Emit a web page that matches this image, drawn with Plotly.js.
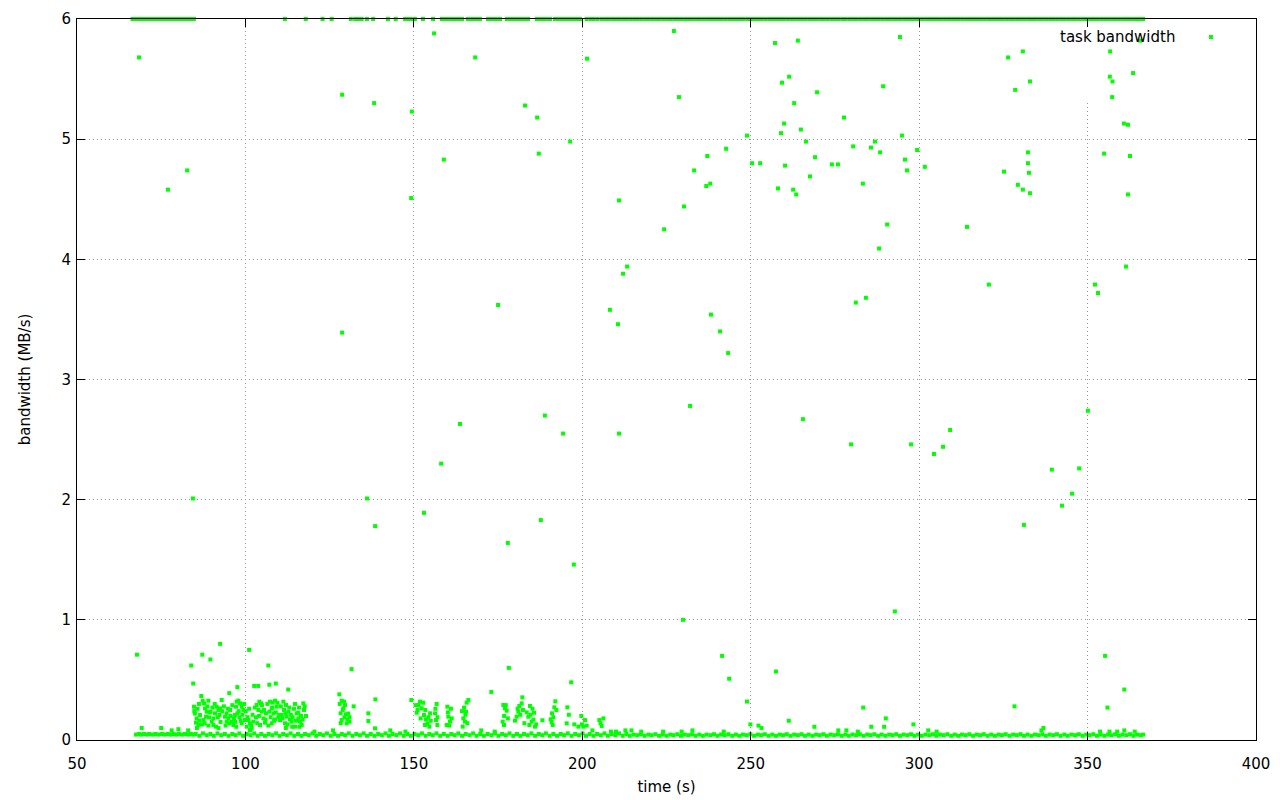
<!DOCTYPE html>
<html><head><meta charset="utf-8">
<script src="https://cdn.plot.ly/plotly-3.0.1.min.js"></script>
<style>html,body{margin:0;padding:0;background:#fff}#chart{width:1280px;height:800px}</style>
</head><body><div id="chart"></div>
<script>
const seriesName = 'task bandwidth';
const xTitle = 'time (s)';
const yTitle = 'bandwidth (MB/s)';
const xTicks = [50, 100, 150, 200, 250, 300, 350, 400];
const yTicks = [0, 1, 2, 3, 4, 5, 6];

// points sitting on the top edge (y = 6)
const topX = [
66.5,67.3,68.1,68.9,69.8,70.6,71.5,72.3,73.2,74.0,
74.9,75.7,76.6,77.4,78.3,79.1,80.0,80.8,81.7,82.5,
83.4,84.2,84.7,111.7,117.9,122.9,125.6,131.3,132.6,133.5,
134.5,136.1,137.9,142.3,144.6,147.4,148.2,149.1,150.3,152.7,
155.7,158.3,159.2,160.1,161.2,162.0,162.9,163.7,164.3,166.0,
166.8,167.7,168.6,169.6,172.0,172.9,173.8,174.7,175.6,177.6,
178.4,179.3,180.2,181.0,182.0,183.0,183.9,186.5,187.4,188.3,
189.2,190.4,191.9,192.8,193.7,194.6,195.5,196.4,197.3,198.2,
199.3,201.3,202.4,203.4,204.5,205.7,206.8,207.8,208.9,210.0,
211.1,212.2,213.2,214.3,215.4,216.5,217.6,218.7,219.7,220.8,
221.9,223.0,224.1,225.2,226.2,227.3,228.4,229.5,230.6,231.7,
232.7,233.8,234.9,236.0,237.1,238.2,239.2,240.3,241.4,242.5,
243.6,244.7,245.7,246.8,247.9,249.0,250.1,251.2,252.2,253.3,
254.4,255.5,256.6,257.7,258.7,259.8,260.9,262.0,263.1,264.2,
265.2,266.3,267.4,268.5,269.6,270.7,271.7,272.8,273.9,275.0,
276.1,277.2,278.2,279.3,280.4,281.5,282.6,283.7,284.7,285.8,
286.9,288.0,289.1,290.2,291.2,292.3,293.4,294.5,295.6,296.7,
297.7,298.8,299.9,301.0,302.1,303.2,304.2,305.3,306.4,307.5,
308.6,309.7,310.7,311.8,312.9,314.0,315.1,316.2,317.2,318.3,
319.4,320.5,321.6,322.7,323.7,324.8,325.9,327.0,328.1,329.2,
330.2,331.3,332.4,333.5,334.6,335.7,336.7,337.8,338.9,340.0,
341.1,342.2,343.2,344.3,345.4,346.5,347.6,348.7,349.7,350.8,
351.9,353.0,354.1,355.2,356.2,357.3,358.4,359.5,360.6,361.7,
362.7,363.8,364.9,366.0,366.5];
const topY = [
6,6,6,6,6,6,6,6,6,6, 6,6,6,6,6,6,6,6,6,6, 6,6,6,6,6,6,6,6,6,6,
6,6,6,6,6,6,6,6,6,6, 6,6,6,6,6,6,6,6,6,6, 6,6,6,6,6,6,6,6,6,6,
6,6,6,6,6,6,6,6,6,6, 6,6,6,6,6,6,6,6,6,6, 6,6,6,6,6,6,6,6,6,6,
6,6,6,6,6,6,6,6,6,6, 6,6,6,6,6,6,6,6,6,6, 6,6,6,6,6,6,6,6,6,6,
6,6,6,6,6,6,6,6,6,6, 6,6,6,6,6,6,6,6,6,6, 6,6,6,6,6,6,6,6,6,6,
6,6,6,6,6,6,6,6,6,6, 6,6,6,6,6,6,6,6,6,6, 6,6,6,6,6,6,6,6,6,6,
6,6,6,6,6,6,6,6,6,6, 6,6,6,6,6,6,6,6,6,6, 6,6,6,6,6,6,6,6,6,6,
6,6,6,6,6,6,6,6,6,6, 6,6,6,6,6,6,6,6,6,6,
6,6,6,6,6];

// dense band of small values along the bottom
const baseX = [
67.5,68.4,69.0,69.9,70.8,71.4,72.5,73.3,74.1,75.2,
76.0,76.9,77.8,78.6,79.5,80.3,81.2,82.1,83.0,83.8,
84.6,85.2,86.3,87.4,88.5,89.6,90.6,91.7,92.8,93.9,
95.0,96.1,97.1,98.2,99.3,100.4,101.5,102.6,103.6,104.7,
105.8,106.9,108.0,109.1,110.1,111.2,112.3,113.4,114.5,115.6,
116.6,117.7,118.8,119.9,121.0,122.1,123.1,124.2,125.3,126.4,
127.5,128.6,129.6,130.7,131.8,132.9,134.0,135.1,136.1,137.2,
138.3,139.4,140.5,141.6,142.6,143.7,144.8,145.9,147.0,148.1,
149.1,150.2,151.3,152.4,153.5,154.6,155.6,156.7,157.8,158.9,
160.0,161.1,162.1,163.2,164.3,165.4,166.5,167.6,168.6,169.7,
170.8,171.9,173.0,174.1,175.1,176.2,177.3,178.4,179.5,180.6,
181.6,182.7,183.8,184.9,186.0,187.1,188.1,189.2,190.3,191.4,
192.5,193.6,194.6,195.7,196.8,197.9,199.0,200.1,201.1,202.2,
203.3,204.4,205.5,206.6,207.6,208.7,209.8,210.9,212.0,213.1,
214.1,215.2,216.3,217.4,218.5,219.6,220.6,221.7,222.8,223.9,
225.0,226.1,227.1,228.2,229.3,230.4,231.5,232.6,233.6,234.7,
235.8,236.9,238.0,239.1,240.1,241.2,242.3,243.4,244.5,245.6,
246.6,247.7,248.8,249.9,251.0,252.1,253.1,254.2,255.3,256.4,
257.5,258.6,259.6,260.7,261.8,262.9,264.0,265.1,266.1,267.2,
268.3,269.4,270.5,271.6,272.6,273.7,274.8,275.9,277.0,278.1,
279.1,280.2,281.3,282.4,283.5,284.6,285.6,286.7,287.8,288.9,
290.0,291.1,292.1,293.2,294.3,295.4,296.5,297.6,298.6,299.7,
300.8,301.9,303.0,304.1,305.1,306.2,307.3,308.4,309.5,310.6,
311.6,312.7,313.8,314.9,316.0,317.1,318.1,319.2,320.3,321.4,
322.5,323.6,324.6,325.7,326.8,327.9,329.0,330.1,331.1,332.2,
333.3,334.4,335.5,336.6,337.6,338.7,339.8,340.9,342.0,343.1,
344.1,345.2,346.3,347.4,348.5,349.6,350.6,351.7,352.8,353.9,
355.0,356.1,357.1,358.2,359.3,360.4,361.5,362.6,363.6,364.7,
365.8,366.5];
const baseY = [
.045,.05,.045,.05,.045,.05,.045,.05,.045,.05,
.045,.05,.045,.05,.045,.05,.045,.05,.045,.05,
.045,.05,.035,.055,.04,.05,.035,.055,.04,.05,
.035,.05,.04,.055,.035,.05,.04,.055,.035,.05,
.035,.05,.04,.055,.035,.05,.04,.055,.035,.05,
.035,.05,.04,.055,.035,.05,.04,.055,.035,.05,
.035,.05,.04,.055,.035,.05,.04,.055,.035,.05,
.035,.05,.04,.055,.035,.05,.04,.055,.035,.05,
.035,.05,.04,.055,.035,.05,.04,.055,.035,.05,
.035,.05,.04,.055,.035,.05,.04,.055,.035,.05,
.035,.05,.04,.055,.035,.05,.04,.055,.035,.05,
.035,.05,.04,.055,.035,.05,.04,.055,.035,.05,
.035,.05,.04,.055,.035,.05,.04,.055,.035,.05,
.035,.05,.04,.055,.035,.05,.04,.055,.035,.05,
.035,.045,.04,.048,.035,.045,.04,.048,.035,.045,
.035,.045,.04,.048,.035,.045,.04,.048,.035,.045,
.035,.045,.04,.048,.035,.045,.04,.048,.035,.045,
.035,.045,.04,.048,.035,.045,.04,.048,.035,.045,
.035,.045,.04,.048,.035,.045,.04,.048,.035,.045,
.035,.045,.04,.048,.035,.045,.04,.048,.035,.045,
.035,.045,.04,.048,.035,.045,.04,.048,.035,.045,
.035,.045,.04,.048,.035,.045,.04,.048,.035,.045,
.035,.045,.04,.048,.035,.045,.04,.048,.035,.045,
.035,.045,.04,.048,.035,.045,.04,.048,.035,.045,
.035,.045,.04,.048,.035,.045,.04,.048,.035,.045,
.035,.045,.04,.048,.035,.045,.04,.048,.035,.045,
.035,.045,.04,.048,.035,.045,.04,.048,.035,.045,
.035,.045,.04,.048,.035,.045,.04,.048,.035,.045,
.04,.045];

// clustered bursts between 0.08 and 0.4
const clusterX = [
84.74,84.83,85.53,85.33,86.32,86.02,86.52,86.91,87.31,87.70,
88.00,88.50,88.30,87.51,87.11,88.99,89.19,91.46,91.96,92.45,
90.97,90.48,89.98,90.48,92.95,92.26,91.27,89.68,93.94,94.43,
94.93,95.42,95.92,96.41,95.22,96.61,94.43,97.40,97.90,98.39,
97.20,98.89,97.60,98.19,99.38,96.91,99.87,98.89,100.87,101.36,
101.85,101.36,102.35,100.37,103.34,104.13,104.62,103.83,104.82,103.14,
105.32,105.81,104.33,106.11,107.30,108.09,108.78,107.79,109.28,108.29,
107.10,109.77,108.78,107.79,111.25,112.05,111.45,112.74,110.76,112.24,
113.23,111.75,113.73,110.27,114.72,115.21,115.71,116.20,117.19,117.39,
117.98,116.70,114.72,115.71,127.88,128.57,129.26,129.56,129.07,128.27,
129.86,128.57,130.25,130.85,130.06,132.13,136.49,136.49,138.57,138.47,
149.25,150.84,151.43,151.83,152.32,153.01,153.61,154.00,154.60,153.31,
154.80,156.77,156.28,156.57,156.97,159.94,160.24,160.73,159.74,161.23,
165.68,165.48,164.69,165.18,164.49,166.17,176.56,177.06,177.55,176.37,
176.76,181.31,182.01,182.20,181.02,180.52,180.03,184.48,183.98,184.97,
184.28,185.67,185.96,188.14,190.61,191.21,191.01,191.70,192.00,195.56,
195.36,197.64,199.72,200.81,200.31,205.06,206.25,205.76,198.83];
const clusterY = [
0.277,0.241,0.180,0.144,0.161,0.125,0.208,0.366,0.327,0.305,
0.263,0.236,0.194,0.166,0.130,0.327,0.189,0.277,0.250,0.263,
0.222,0.180,0.153,0.125,0.333,0.208,0.111,0.236,0.194,0.153,
0.180,0.250,0.153,0.125,0.139,0.180,0.222,0.319,0.327,0.305,
0.277,0.277,0.222,0.189,0.250,0.208,0.166,0.139,0.166,0.139,
0.097,0.083,0.153,0.111,0.291,0.319,0.305,0.250,0.236,0.189,
0.180,0.144,0.125,0.222,0.319,0.311,0.327,0.263,0.277,0.222,
0.236,0.189,0.172,0.139,0.319,0.291,0.250,0.236,0.208,0.194,
0.172,0.139,0.153,0.166,0.300,0.222,0.180,0.153,0.305,0.250,
0.200,0.125,0.111,0.228,0.380,0.327,0.319,0.291,0.264,0.222,
0.214,0.166,0.172,0.153,0.139,0.280,0.222,0.158,0.338,0.097,
0.333,0.227,0.291,0.319,0.264,0.208,0.172,0.139,0.111,0.125,
0.222,0.300,0.222,0.166,0.125,0.277,0.194,0.153,0.125,0.180,
0.311,0.236,0.180,0.153,0.111,0.333,0.291,0.264,0.244,0.153,
0.125,0.283,0.305,0.355,0.236,0.194,0.161,0.283,0.194,0.153,
0.125,0.227,0.111,0.164,0.172,0.125,0.222,0.272,0.322,0.272,
0.139,0.130,0.200,0.166,0.111,0.166,0.180,0.117,0.111];

// more points inside the same bursts
const burstX = [
85.0,85.8,86.2,85.6,87.9,88.7,89.4,89.0,90.2,90.9,
91.8,92.6,93.1,92.0,93.6,94.1,94.8,95.6,96.1,96.9,
97.3,98.0,98.6,99.1,99.6,100.1,100.6,101.1,101.7,102.1,
102.8,103.5,104.0,104.9,105.5,106.0,106.5,106.8,107.5,108.0,
108.5,109.0,109.5,110.0,110.5,111.0,111.9,112.5,113.0,113.5,
114.0,114.4,115.0,115.9,116.5,117.0,117.6,116.0,113.9,112.0,
128.0,128.9,129.4,130.5,128.3,130.9,150.5,151.1,152.0,152.8,
153.4,154.3,155.0,156.4,157.0,160.1,160.5,161.0,164.9,165.3,
165.9,164.3,176.8,177.3,177.9,180.8,181.6,182.4,182.8,183.5,
184.6,185.2,185.5,186.3,190.9,191.4,192.3,196.0,199.9,201.3,
205.4];
const burstY = [
0.22,0.26,0.30,0.10,0.14,0.28,0.23,0.12,0.27,0.30,
0.19,0.15,0.24,0.10,0.28,0.12,0.26,0.20,0.29,0.15,
0.11,0.24,0.16,0.21,0.30,0.24,0.19,0.26,0.12,0.21,
0.27,0.14,0.20,0.29,0.25,0.17,0.30,0.12,0.19,0.27,
0.16,0.23,0.31,0.21,0.28,0.18,0.22,0.13,0.27,0.21,
0.19,0.26,0.16,0.27,0.20,0.17,0.28,0.11,0.11,0.10,
0.30,0.25,0.19,0.22,0.14,0.19,0.29,0.25,0.18,0.31,
0.25,0.19,0.16,0.26,0.19,0.23,0.12,0.26,0.27,0.21,
0.14,0.24,0.20,0.29,0.18,0.26,0.21,0.25,0.14,0.23,
0.21,0.26,0.17,0.13,0.15,0.19,0.25,0.21,0.13,0.12,
0.14];

// isolated small values just above the band
const sprinkleX = [
69.2,75.0,78.1,80.1,83.0,249.9,252.3,253.2,261.3,268.9,
285.8,289.6,298.3,290.1,283.4,328.3,336.9,336.3,360.9,364.0,
224.0,229.5,232.7,242.0,212.8,217.5,276.0,278.4,281.8,302.7,
305.2,353.7,356.5,358.8,210.0,214.6,355.9,120.5,126.0,143.0,
147.5,170.0,174.0,203.0,208.5];
const sprinkleY = [
0.10,0.10,0.08,0.09,0.08,0.13,0.12,0.10,0.16,0.11,
0.11,0.11,0.13,0.18,0.27,0.28,0.10,0.08,0.08,0.07,
0.07,0.07,0.08,0.07,0.08,0.07,0.08,0.08,0.07,0.08,
0.07,0.07,0.07,0.07,0.07,0.08,0.27,0.07,0.08,0.08,
0.07,0.08,0.07,0.08,0.07];

// scattered larger values
const upperX = [
68.4,77.0,82.7,84.4,67.8,128.7,128.7,138.2,136.1,138.5,
149.4,149.2,153.0,156.0,158.9,158.1,163.7,168.2,175.0,177.9,
183.0,186.6,187.1,187.7,188.9,196.4,194.3,197.5,201.4,208.2,
210.9,212.1,213.3,210.6,210.9,224.3,227.2,228.7,230.2,232.0,
229.9,233.2,237.1,236.8,238.0,238.2,240.9,242.7,243.3,241.5,
243.6,248.9,248.9,250.4,252.8,257.2,258.1,257.5,259.3,259.0,
259.9,260.2,261.4,262.6,262.9,263.5,264.0,264.9,266.4,265.5,
267.6,269.7,269.1,274.1,275.9,277.7,279.8,280.4,281.2,283.3,
284.2,285.7,286.9,288.1,288.4,289.3,290.5,292.8,294.3,294.9,
295.8,296.4,297.6,299.4,301.7,304.4,307.1,309.2,314.2,320.7,
325.2,326.4,328.5,329.3,330.8,330.8,331.1,332.3,332.3,332.6,
332.9,332.9,339.4,342.4,345.4,347.5,350.1,352.2,353.1,354.9,
356.7,356.6,357.3,357.4,360.8,362.0,361.4,362.0,362.6,363.5,
365.6,355.2,360.9,131.5,178.2,173.0,196.7,92.5,87.2,89.6,
83.9,84.5,101.1,106.8,102.6,103.8,107.1,109.0,112.7,95.2,
97.6];
const upperY = [
5.68,4.58,4.74,2.01,0.71,5.37,3.39,5.30,2.01,1.78,
5.23,4.51,1.89,5.88,4.83,2.30,2.63,5.68,3.62,1.64,
5.28,5.18,4.88,1.83,2.70,4.98,2.55,1.46,5.67,3.58,
4.49,3.88,3.94,3.46,2.55,4.25,5.90,5.35,4.44,2.78,
1.00,4.74,4.86,4.61,4.63,3.54,3.40,4.92,3.22,0.70,
0.51,5.03,0.32,4.80,4.80,5.80,4.59,0.57,5.47,5.05,
5.13,4.78,5.52,4.58,5.30,4.54,5.82,5.08,4.98,2.67,
4.69,5.39,4.85,4.79,4.79,5.18,2.46,4.94,3.64,4.63,
3.68,4.93,4.98,4.09,4.89,5.44,4.29,1.07,5.85,5.03,
4.83,4.74,2.46,4.91,4.77,2.38,2.44,2.58,4.27,3.79,
4.73,5.68,5.41,4.62,5.73,4.58,1.79,4.89,4.80,4.72,
4.55,5.48,2.25,1.95,2.05,2.26,2.74,3.79,3.72,4.88,
5.73,5.52,5.35,5.48,5.13,5.12,3.94,4.54,4.86,5.55,
5.82,0.70,0.42,0.59,0.60,0.40,0.48,0.80,0.71,0.67,
0.62,0.47,0.75,0.62,0.45,0.45,0.46,0.47,0.42,0.39,
0.44];

const allX = [].concat(topX, baseX, clusterX, burstX, sprinkleX, upperX);
const allY = [].concat(topY, baseY, clusterY, burstY, sprinkleY, upperY);

const green = '#00ff00';
const font = {family: 'DejaVu Sans', size: 15, color: '#000'};

const axisCommon = {
  ticks: 'inside', ticklen: 8, tickwidth: 1, tickcolor: '#000',
  showline: true, linecolor: '#000', linewidth: 1, mirror: 'ticks',
  showgrid: true, gridcolor: '#9a9a9a', gridwidth: 1, griddash: '1px,3px',
  zeroline: false, tickfont: font, fixedrange: true
};

const layout = {
  width: 1280, height: 800,
  margin: {l: 77, r: 24, t: 19, b: 60},
  paper_bgcolor: '#fff', plot_bgcolor: '#fff',
  font: font, showlegend: false,
  xaxis: Object.assign({}, axisCommon, {
    range: [50, 400], tickvals: xTicks, ticktext: xTicks.map(String),
    ticklabelstandoff: 10,
    title: {text: xTitle, font: font, standoff: 9}
  }),
  yaxis: Object.assign({}, axisCommon, {
    range: [0, 6], tickvals: yTicks, ticktext: yTicks.map(String),
    ticklabelstandoff: 2,
    title: {text: yTitle, font: font, standoff: 27}
  }),
  shapes: [
    {type: 'rect', layer: 'between', xref: 'x', yref: 'y', x0: 345, x1: 400, y0: 5.3, y1: 6,
     fillcolor: '#fff', line: {width: 0}},
    {type: 'rect', layer: 'above', xref: 'paper', yref: 'paper',
     xsizemode: 'pixel', ysizemode: 'pixel', xanchor: 0.9618, yanchor: 0.975,
     x0: -2, x1: 2, y0: -2, y1: 2, fillcolor: green, line: {width: 0}}
  ],
  annotations: [
    {text: seriesName, xref: 'paper', yref: 'paper', x: 0.933, y: 0.975,
     xanchor: 'right', yanchor: 'middle', showarrow: false, font: font}
  ]
};

Plotly.newPlot('chart', [{
  type: 'scatter', mode: 'markers', name: seriesName,
  x: allX, y: allY, cliponaxis: false,
  marker: {symbol: 'square', size: 4, color: green, line: {width: 0}}
}], layout, {staticPlot: true});
</script>
</body></html>
